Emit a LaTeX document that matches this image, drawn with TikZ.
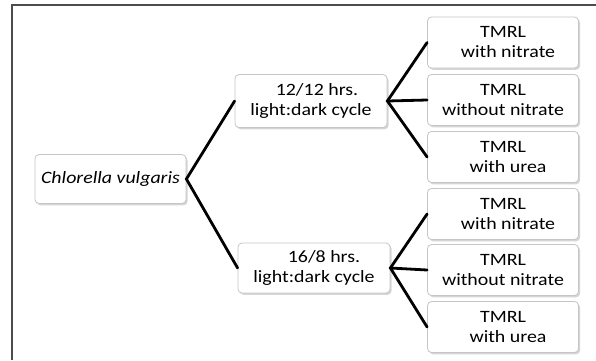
\documentclass[tikz,border=0pt]{standalone}
\usepackage{fontspec}
\setmainfont{Carlito}[FakeStretch=1.15]
\usetikzlibrary{shadows}

\tikzset{
  box/.style={draw=gray!45, line width=0.8pt, fill=white, rounded corners=4pt,
    align=center, inner sep=0pt, minimum width=151pt, minimum height=51pt,
    font=\fontsize{17.3}{20}\selectfont,
    drop shadow={shadow xshift=1.6pt, shadow yshift=-1.8pt, fill=gray!60, opacity=0.55}},
  branch/.style={draw=black, line width=2.8pt, line cap=round},
  frame/.style={draw=black!70, line width=1.6pt}
}

\begin{document}
\begin{tikzpicture}[x=1pt, y=-1pt]
  \useasboundingbox (0,0) rectangle (596,360);

  % open frame along the top and left edges
  \coordinate (ftr) at (596,5);
  \coordinate (ftl) at (12,5);
  \coordinate (fbl) at (12,360);
  \draw[frame] (ftr) -- (ftl) -- (fbl);

  % species
  \node[box, minimum width=151pt, minimum height=49pt] (root) at (110.5,179)
    {\itshape Chlorella vulgaris};

  % photoperiod regimes
  \node[box, minimum width=152pt, minimum height=53pt] (c1) at (311,101)
    {\hspace*{12pt}12/12 hrs.\\light:dark cycle};
  \node[box, minimum width=152pt, minimum height=50pt] (c2) at (314,268)
    {\hspace*{20pt}16/8 hrs.\\light:dark cycle};

  % medium variants, first regime
  \node[box] (a1) at (503,42.5) {TMRL\\\hspace*{10pt}with nitrate};
  \node[box] (a2) at (503,100)  {TMRL\\without nitrate};
  \node[box] (a3) at (503,157)  {TMRL\\\hspace*{10pt}with urea};

  % medium variants, second regime
  \node[box] (b1) at (503,214)  {TMRL\\\hspace*{10pt}with nitrate};
  \node[box] (b2) at (503,270)  {TMRL\\without nitrate};
  \node[box] (b3) at (503,327)  {TMRL\\\hspace*{10pt}with urea};

  % tree branches
  \draw[branch] (c1.west) -- (root.east) -- (c2.west);
  \draw[branch] (a1.west) -- (c1.east) -- (a3.west);
  \draw[branch] (c1.east) -- (a2.west);
  \draw[branch] (b1.west) -- (c2.east) -- (b3.west);
  \draw[branch] (c2.east) -- (b2.west);
\end{tikzpicture}
\end{document}
